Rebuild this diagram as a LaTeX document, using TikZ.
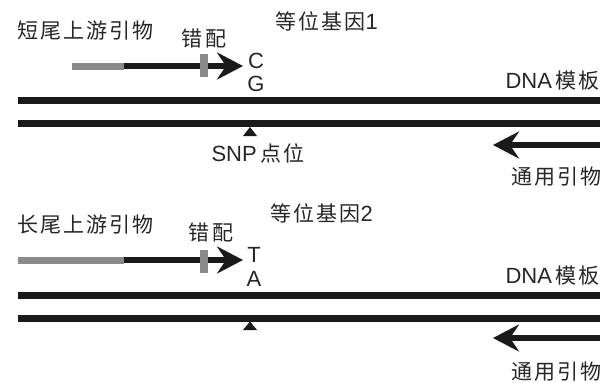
\documentclass[tikz,border=0pt]{standalone}
\usepackage{fontspec}
\setmainfont{Liberation Sans}
\newfontfamily\cjk[LetterSpace=10]{Noto Sans CJK SC}
\usetikzlibrary{arrows.meta}
\definecolor{ink}{HTML}{1A1A1A}
\definecolor{txt}{HTML}{262626}
\definecolor{tailgray}{HTML}{8A8A8A}
\newcommand{\zh}[1]{{\cjk\fontsize{21}{23}\selectfont #1}}
\begin{document}
\begin{tikzpicture}[x=1pt,y=-1pt,
  strand/.style={line width=7pt, ink},
  primer/.style={line width=6pt, ink, -{Stealth[length=26pt,width=27pt,inset=9pt]}},
  tailbar/.style={line width=7pt, tailgray},
  mism/.style={fill=tailgray, minimum width=8pt, minimum height=23pt, inner sep=0pt, draw=none},
  lbl/.style={inner sep=0pt, text=txt, font=\fontsize{22}{24}\selectfont},
  snp/.style={fill=ink, draw=none}
]
\useasboundingbox (0,0) rectangle (614,383);

% ---------- panel 1 ----------
\node[lbl, anchor=west] (t1) at (17,31) {\zh{短尾上游引物}};
\node[lbl] (mm1) at (204,38) {\zh{错配}};
\node[lbl, anchor=west] (al1) at (275,21) {\zh{等位基因}1};
\node[lbl] (c1) at (256,61) {C};
\node[lbl] (g1) at (256,84) {G};
\node[lbl, anchor=east] (dna1) at (600,81) {DNA\,\zh{模板}};
\node[lbl] (snp1) at (258,153) {SNP\,\zh{点位}};
\node[lbl, anchor=east] (u1) at (602,177) {\zh{通用引物}};

\coordinate (p1s) at (72,66);
\coordinate (p1m) at (124,66);
\coordinate (p1e) at (243,66);
\draw[tailbar] (p1s) -- (p1m);
\draw[primer] (p1m) -- (p1e);
\node[mism] (r1) at (204,65.5) {};

\coordinate (a1l) at (18,100);
\coordinate (a1r) at (600,100);
\coordinate (b1l) at (18,123.5);
\coordinate (b1r) at (600,123.5);
\draw[strand] (a1l) -- (a1r);
\draw[strand] (b1l) -- (b1r);
\fill[snp] (243,136) -- (250,127) -- (257,136) -- cycle;

\coordinate (g1s) at (600,145);
\coordinate (g1e) at (493,145);
\draw[primer] (g1s) -- (g1e);

% ---------- panel 2 ----------
\node[lbl, anchor=west] (t2) at (17,225) {\zh{长尾上游引物}};
\node[lbl] (mm2) at (211,232) {\zh{错配}};
\node[lbl, anchor=west] (al2) at (270,213) {\zh{等位基因}2};
\node[lbl] (c2) at (254,255) {T};
\node[lbl] (g2) at (254,279) {A};
\node[lbl, anchor=east] (dna2) at (600,276) {DNA\,\zh{模板}};
\node[lbl, anchor=east] (u2) at (602,372) {\zh{通用引物}};

\coordinate (p2s) at (18,260);
\coordinate (p2m) at (124,260);
\coordinate (p2e) at (243,260);
\draw[tailbar] (p2s) -- (p2m);
\draw[primer] (p2m) -- (p2e);
\node[mism] (r2) at (204,261) {};

\coordinate (a2l) at (18,295);
\coordinate (a2r) at (600,295);
\coordinate (b2l) at (18,318);
\coordinate (b2r) at (600,318);
\draw[strand] (a2l) -- (a2r);
\draw[strand] (b2l) -- (b2r);
\fill[snp] (243,330) -- (250,321.5) -- (257,330) -- cycle;

\coordinate (g2s) at (600,338);
\coordinate (g2e) at (493,338);
\draw[primer] (g2s) -- (g2e);
\end{tikzpicture}
\end{document}
